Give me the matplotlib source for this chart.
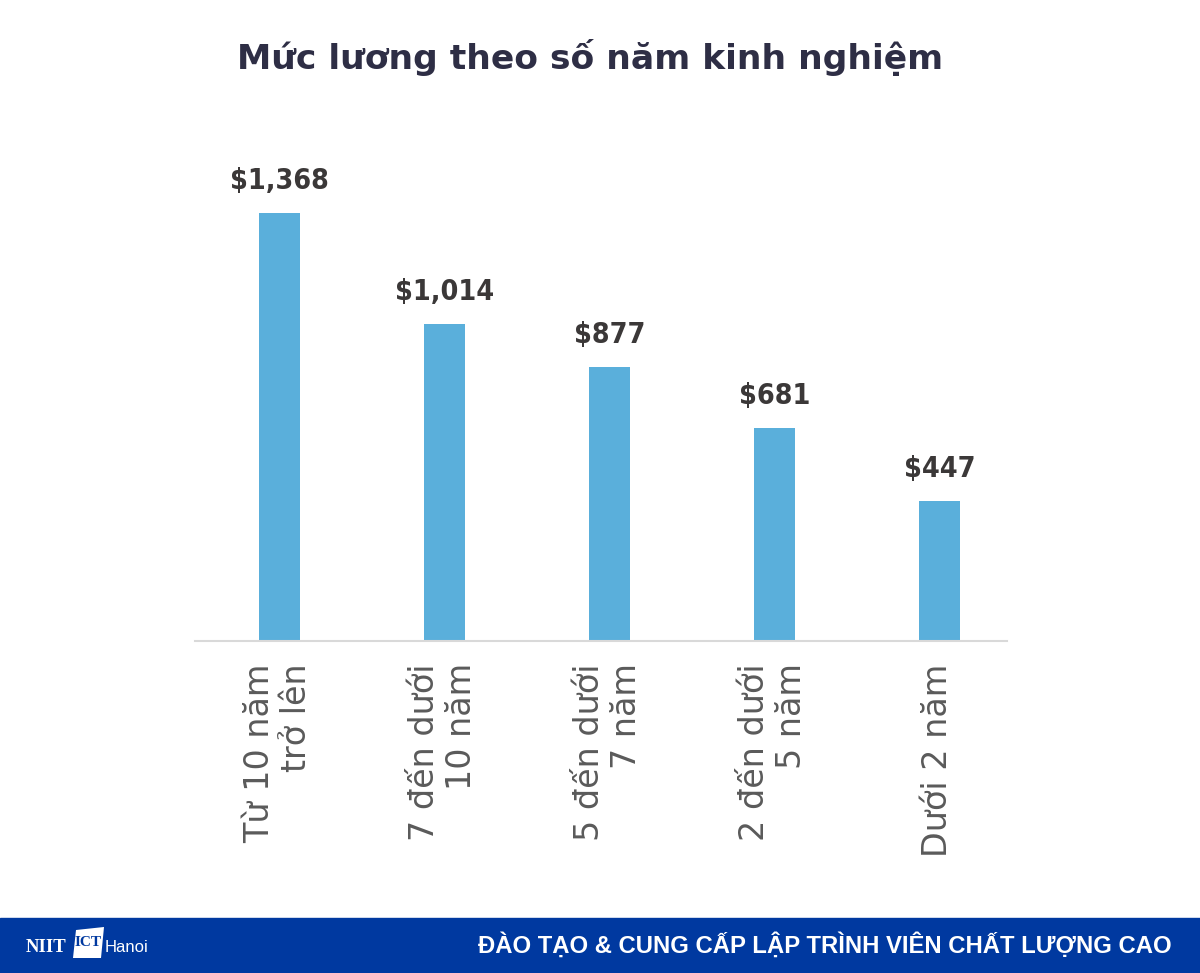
import matplotlib
matplotlib.use("Agg")
import matplotlib.pyplot as plt
from matplotlib.patches import Rectangle, Polygon

categories = ["Từ 10 năm\ntrở lên", "7 đến dưới\n10 năm", "5 đến dưới\n7 năm", "2 đến dưới\n5 năm", "Dưới 2 năm"]
values = [1368, 1014, 877, 681, 447]
value_labels = ["$1,368", "$1,014", "$877", "$681", "$447"]
title = "Mức lương theo số năm kinh nghiệm"
footer_text = "ĐÀO TẠO & CUNG CẤP LẬP TRÌNH VIÊN CHẤT LƯỢNG CAO"

W, H = 1200, 973
fig = plt.figure(figsize=(W / 100, H / 100), dpi=100)
fig.patch.set_facecolor("white")

def fx(px):
    return px / W

def fy(py):
    return 1 - py / H

ax = fig.add_axes([fx(195), fy(641), fx(1007) - fx(195), fy(120) - fy(641)])
x = list(range(len(categories)))
ax.bar(x, values, width=0.25, color="#5aafdb", zorder=2)
ax.set_xlim(-0.51, 4.41)
ax.set_ylim(0, 1665)
for s in ["top", "right", "left"]:
    ax.spines[s].set_visible(False)
ax.spines["bottom"].set_color("#d9d9d9")
ax.spines["bottom"].set_linewidth(1.5)
ax.set_yticks([])
ax.set_xticks(x)
ax.set_xticklabels([])
ax.tick_params(axis="x", length=0)
ax.set_facecolor("none")

for xi, lab in zip(x, categories):
    ax.annotate(lab, xy=(xi, 0), xycoords="data", xytext=(-1, -16), textcoords="offset points",
                rotation=90, ha="center", va="top", multialignment="right",
                fontsize=24, color="#5a5a5a", family=["DejaVu Sans"], linespacing=1.15)

for xi, v, lab in zip(x, values, value_labels):
    ax.annotate(lab, xy=(xi, v), xycoords="data", xytext=(0, 13), textcoords="offset points",
                ha="center", va="bottom", fontsize=20.5, fontweight="bold", color="#3b3838",
                family=["DejaVu Sans"], fontstretch="condensed")

fig.text(fx(590), fy(57), title, ha="center", va="center", fontsize=24.8, fontweight="bold",
         color="#2e2e45", family=["DejaVu Sans"])

# footer band
band = Rectangle((0, 0), 1, fy(918), transform=fig.transFigure, color="#0039a0", zorder=0)
fig.add_artist(band)
fig.text(fx(1172), fy(945), footer_text, ha="right", va="center", fontsize=17.2, fontweight="bold",
         color="white", family=["Liberation Sans", "DejaVu Sans"])

# logo
fig.text(fx(26), fy(947), "NIIT", ha="left", va="center", fontsize=13.5, fontweight="bold",
         color="white", family=["Liberation Serif", "DejaVu Serif"])
logo_box = Polygon([(fx(73), fy(958)), (fx(76), fy(930)), (fx(104), fy(927)), (fx(101), fy(958))],
                   closed=True, transform=fig.transFigure, facecolor="white", edgecolor="none")
fig.add_artist(logo_box)
fig.text(fx(88.5), fy(943), "ICT", ha="center", va="center", fontsize=11, fontweight="bold",
         color="#0039a0", family=["Liberation Serif", "DejaVu Serif"])
fig.text(fx(105), fy(947), "Hanoi", ha="left", va="center", fontsize=12,
         color="white", family=["Liberation Sans", "DejaVu Sans"])

fig.savefig("out.png", dpi=100, facecolor="white")
